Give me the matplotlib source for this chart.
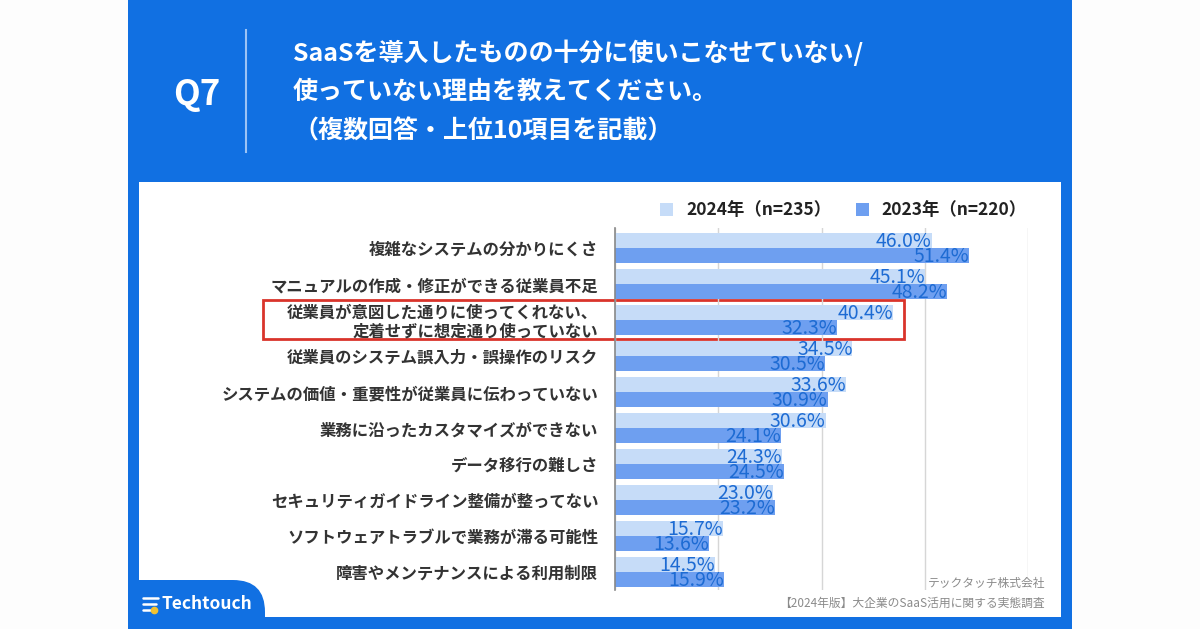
import matplotlib

matplotlib.use("Agg")
import matplotlib.pyplot as plt
from matplotlib.patches import Rectangle, FancyBboxPatch

plt.rcParams["font.family"] = ["Noto Sans CJK JP", "DejaVu Sans"]

CATEGORIES = [
    "複雑なシステムの分かりにくさ",
    "マニュアルの作成・修正ができる従業員不足",
    "従業員が意図した通りに使ってくれない、\n定着せずに想定通り使っていない",
    "従業員のシステム誤入力・誤操作のリスク",
    "システムの価値・重要性が従業員に伝わっていない",
    "業務に沿ったカスタマイズができない",
    "データ移行の難しさ",
    "セキュリティガイドライン整備が整ってない",
    "ソフトウェアトラブルで業務が滞る可能性",
    "障害やメンテナンスによる利用制限",
]
VALUES_2024 = [46.0, 45.1, 40.4, 34.5, 33.6, 30.6, 24.3, 23.0, 15.7, 14.5]
VALUES_2023 = [51.4, 48.2, 32.3, 30.5, 30.9, 24.1, 24.5, 23.2, 13.6, 15.9]
SERIES = ["2024年（n=235）", "2023年（n=220）"]
XTICKS = [0, 15, 30, 45, 60]

BLUE = "#1170e2"
LIGHT = "#c6dcf8"
MID = "#6e9ff0"
LABEL_BLUE = "#1d6bd3"
W, H = 1200, 629

fig = plt.figure(figsize=(12, 6.29), dpi=100)
fig.patch.set_facecolor("#fdfdfd")

# background layer in pixel coordinates
bg = fig.add_axes([0, 0, 1, 1])
bg.set_xlim(0, W)
bg.set_ylim(H, 0)
bg.axis("off")
panel = Rectangle((128, 0), 944, H, color=BLUE, lw=0)
bg.add_patch(panel)
bg.add_patch(Rectangle((139, 182), 922, 435, color="white", lw=0))
# logo tab, clipped to the blue panel
tab = FancyBboxPatch((100, 580), 165, 80, boxstyle="round,pad=0,rounding_size=32",
                     color=BLUE, lw=0)
bg.add_patch(tab)
tab.set_clip_path(panel)
for dy, x1 in [(598, 158), (604, 156), (610, 150)]:
    bg.plot([143, x1], [dy, dy], color="white", lw=1.8, solid_capstyle="round")
bg.plot([154], [610], "o", color="#f2c230", ms=4.5)
bg.text(162, 604, "Techtouch", color="white", fontsize=12.5, fontweight="bold",
        va="center", ha="left")

# header
bg.text(197, 95, "Q7", color="white", fontsize=25, fontweight="bold", ha="center", va="center")
bg.plot([246, 246], [30, 152], color="#9cc3f5", lw=1.5)
title_lines = ["SaaSを導入したものの十分に使いこなせていない/",
               "使っていない理由を教えてください。",
               "（複数回答・上位10項目を記載）"]
for i, t in enumerate(title_lines):
    bg.text(293, 53 + i * 39, t, color="white", fontsize=18, fontweight="bold",
            ha="left", va="center")

# legend
for sx, tx, col, lab in [(660, 686, LIGHT, SERIES[0]), (856, 881, MID, SERIES[1])]:
    bg.add_patch(Rectangle((sx, 203), 13, 13, color=col, lw=0))
    bg.text(tx, 210, lab, fontsize=12.5, fontweight="bold", color="#222",
            ha="left", va="center")

# red highlight box
bg.add_patch(Rectangle((263, 300), 641, 39, fill=False, ec="#d9342b", lw=2, zorder=5))

# footer
bg.text(1045, 583, "テックタッチ株式会社", fontsize=8.5, color="#8a8a8a", ha="right", va="center")
bg.text(1045, 603, "【2024年版】大企業のSaaS活用に関する実態調査", fontsize=8.5,
        color="#8a8a8a", ha="right", va="center")

# chart
x0, x1 = 615, 1028
y_top, y_bot = 228, 590
row0, step = 248, 36
ax = fig.add_axes([x0 / W, 1 - y_bot / H, (x1 - x0) / W, (y_bot - y_top) / H])
ax.set_xlim(0, 60)
ax.set_ylim(9 + (y_bot - row0 - 9 * step) / step, -(row0 - y_top) / step)
ax.patch.set_alpha(0)
for s in ["top", "right", "bottom"]:
    ax.spines[s].set_visible(False)
ax.spines["left"].set_color("#888")
ax.spines["left"].set_linewidth(1.2)
ax.set_xticks(XTICKS)
ax.tick_params(axis="x", length=0, labelbottom=False)
ax.grid(axis="x", color="#d6d6d6", lw=1)
ax.set_axisbelow(True)

pos = list(range(len(CATEGORIES)))
bh = 15 / step
ax.barh([p - bh / 2 for p in pos], VALUES_2024, height=bh, color=LIGHT, lw=0)
ax.barh([p + bh / 2 for p in pos], VALUES_2023, height=bh, color=MID, lw=0)
for p, a, b in zip(pos, VALUES_2024, VALUES_2023):
    ax.text(a, p - bh / 2 + 0.04, f"{a:.1f}%", color=LABEL_BLUE, fontsize=14,
            ha="right", va="center")
    ax.text(b, p + bh / 2 + 0.04, f"{b:.1f}%", color=LABEL_BLUE, fontsize=14,
            ha="right", va="center")

ax.set_yticks(pos)
ax.set_yticklabels(CATEGORIES, fontsize=11.8, fontweight="bold", color="#333",
                   linespacing=1.0)
ax.tick_params(axis="y", length=0, pad=12)

fig.savefig("out.png", dpi=100)
